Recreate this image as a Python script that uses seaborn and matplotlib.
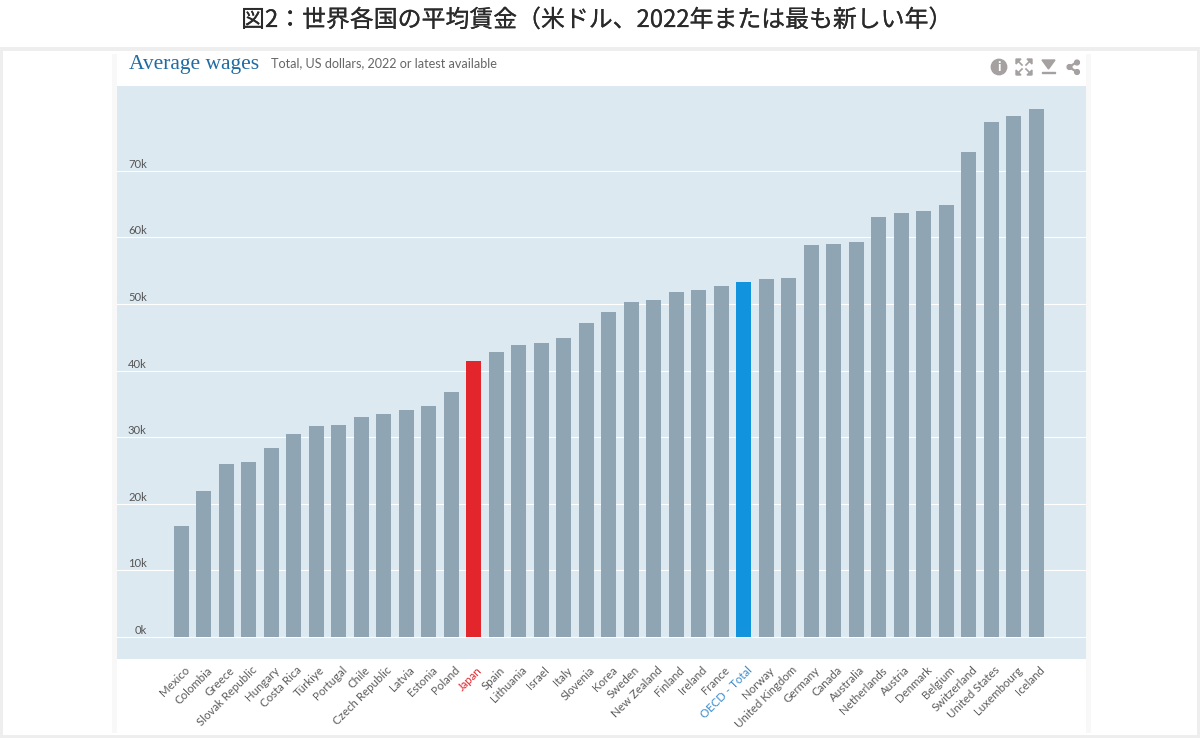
import matplotlib
matplotlib.use("Agg")
import matplotlib.pyplot as plt
from matplotlib.patches import Rectangle, Circle, Polygon
from matplotlib.lines import Line2D
from matplotlib.transforms import ScaledTranslation
import matplotlib.patheffects as pe
import pandas as pd
import seaborn as sns

# data, in thousands of US dollars
countries = ["Mexico", "Colombia", "Greece", "Slovak Republic", "Hungary", "Costa Rica",
             "Türkiye", "Portugal", "Chile", "Czech Republic", "Latvia", "Estonia", "Poland",
             "Japan", "Spain", "Lithuania", "Israel", "Italy", "Slovenia", "Korea", "Sweden",
             "New Zealand", "Finland", "Ireland", "France", "OECD - Total", "Norway",
             "United Kingdom", "Germany", "Canada", "Australia", "Netherlands", "Austria",
             "Denmark", "Belgium", "Switzerland", "United States", "Luxembourg", "Iceland"]
wages = [16.7, 21.9, 26.0, 26.3, 28.4, 30.5, 31.7, 31.8, 33.0, 33.5, 34.1, 34.7, 36.8,
         41.5, 42.8, 43.9, 44.2, 44.9, 47.2, 48.8, 50.3, 50.6, 51.8, 52.1, 52.7, 53.3, 53.8,
         53.9, 58.9, 59.0, 59.3, 63.1, 63.7, 64.0, 64.8, 72.8, 77.3, 78.2, 79.3]
y_ticks = [0, 10, 20, 30, 40, 50, 60, 70]
y_tick_labels = ["0k", "10k", "20k", "30k", "40k", "50k", "60k", "70k"]

W, H = 1200, 738
BAR = "#90a5b3"
RED = "#e3262c"
BLUE = "#1293de"
ICON = "#a5a1a1"

df = pd.DataFrame({"country": countries, "wage": wages})
colors = {c: BAR for c in countries}
colors["Japan"] = RED
colors["OECD - Total"] = BLUE

plt.rcParams["font.family"] = ["Lato", "DejaVu Sans"]
fig = plt.figure(figsize=(W / 100, H / 100), dpi=100, facecolor="white")


def px_box(x0, y0, x1, y1):
    # figure fractions from pixel box, y counted from the top
    return [x0 / W, 1 - y1 / H, (x1 - x0) / W, (y1 - y0) / H]


def px(x, y):
    return x / W, 1 - y / H


def add_rect(x0, y0, x1, y1, color):
    b = px_box(x0, y0, x1, y1)
    fig.add_artist(Rectangle((b[0], b[1]), b[2], b[3], transform=fig.transFigure,
                             facecolor=color, edgecolor="none", zorder=-5))


# page frame and panel
add_rect(0, 47, W, H, "#eeeeee")
add_rect(3, 51, 1197, 735, "white")
add_rect(112, 54, 1091, 733, "#f8f8f8")
add_rect(117, 54, 1086, 733, "white")

ax = fig.add_axes(px_box(117, 86, 1086, 659))
ax.set_facecolor("#dde9f1")
sns.barplot(data=df, x="country", y="wage", hue="country", palette=colors, legend=False,
            width=0.66, saturation=1, ax=ax, zorder=3)
ax.set_xlim(-2.86, 40.21)
ax.set_ylim(-3.3, 82.73)
ax.set_xlabel("")
ax.set_ylabel("")
for s in ax.spines.values():
    s.set_visible(False)
ax.set_yticks(y_ticks)
ax.set_yticklabels(y_tick_labels)
ax.grid(axis="y", color="white", linewidth=0.8, zorder=1)
ax.grid(axis="x", visible=False)
ax.set_axisbelow(True)
ax.tick_params(axis="y", length=0, pad=-21.5, labelsize=8.1, labelcolor="#555555")
ax.tick_params(axis="x", length=0, pad=4)
up = ScaledTranslation(0, 1 / 100, fig.dpi_scale_trans)
for lab in ax.get_yticklabels():
    lab.set_va("bottom")
    lab.set_ha("right")
    lab.set_transform(lab.get_transform() + up)
ax.set_xticks(range(len(countries)))
ax.set_xticklabels(countries, rotation=45, ha="right", rotation_mode="anchor",
                   fontsize=8.3, color="#5c5c5c")
shift = ScaledTranslation(2.5 / 100, 0, fig.dpi_scale_trans)
for lab in ax.get_xticklabels():
    lab.set_transform(lab.get_transform() + shift)
    if lab.get_text() == "Japan":
        lab.set_color(RED)
    elif lab.get_text() == "OECD - Total":
        lab.set_color("#3d8ccb")

# headings
x, y = px(596.5, 20.5)
fig.text(x, y, "図2：世界各国の平均賃金（米ドル、2022年または最も新しい年）", ha="center", va="center",
         fontsize=17.2, color="#2a2a2a", family=["Noto Sans CJK JP", "DejaVu Sans"],
         path_effects=[pe.withStroke(linewidth=0.15, foreground="#2a2a2a")])
x, y = px(129, 65)
fig.text(x, y, "Average wages", ha="left", va="center", fontsize=15.5, color="#1f6ba3",
         family=["Liberation Serif"])
x, y = px(271, 63.5)
fig.text(x, y, "Total, US dollars, 2022 or latest available", ha="left", va="center",
         fontsize=9.05, color="#666666")

# toolbar icons, drawn in an overlay axes using pixel coordinates
over = fig.add_axes([0, 0, 1, 1], facecolor="none")
over.set_xlim(0, W)
over.set_ylim(H, 0)
over.axis("off")
over.add_patch(Circle((999, 67), 7.7, color=ICON))
over.text(999, 67, "i", ha="center", va="center", fontsize=10, fontweight="bold", color="white")
for cx, cy, dx, dy in [(1016, 59, 1, 1), (1032, 59, -1, 1), (1016, 75, 1, -1), (1032, 75, -1, -1)]:
    over.add_patch(Polygon([(cx, cy), (cx + 5 * dx, cy), (cx, cy + 5 * dy)], color=ICON))
    over.add_line(Line2D([cx + 2 * dx, cx + 6 * dx], [cy + 2 * dy, cy + 6 * dy], color=ICON, lw=1.2))
over.add_patch(Polygon([(1042, 60), (1055, 60), (1048.5, 69)], color=ICON))
over.add_patch(Rectangle((1042, 71.5), 13, 1.7, color=ICON))
over.add_line(Line2D([1077, 1069, 1077], [62, 67, 72], color=ICON, lw=1.6))
for cx, cy in [(1077, 62.5), (1069.5, 67), (1077, 72)]:
    over.add_patch(Circle((cx, cy), 2.4, color=ICON))

fig.savefig("out.png", dpi=100)
